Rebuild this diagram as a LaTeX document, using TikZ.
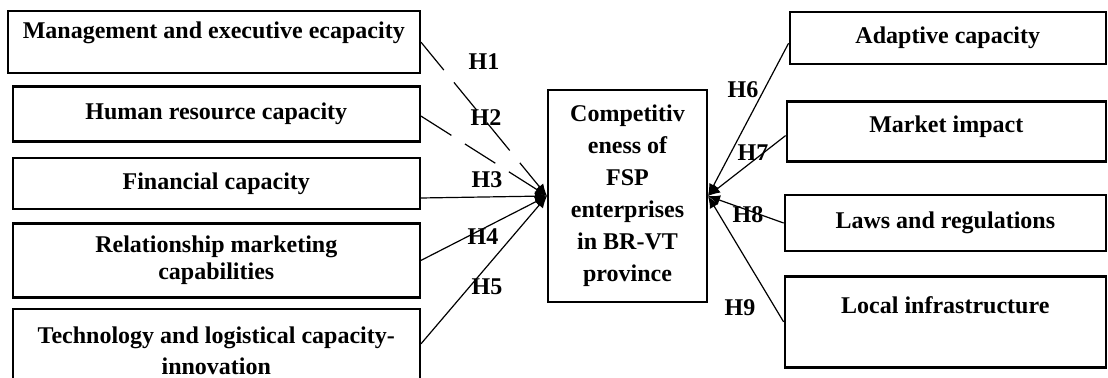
\documentclass[tikz,border=0pt]{standalone}
\usepackage{fontspec}
\setmainfont{Liberation Serif}
\usetikzlibrary{arrows.meta, positioning}

\begin{document}
\begin{tikzpicture}[
    x=0.5pt, y=-0.5pt,
    factor/.style={rectangle, draw, line width=1.2pt, align=center, inner sep=0pt,
        font=\bfseries\fontsize{12}{13.5}\selectfont},
    hyp/.style={inner sep=0pt, font=\bfseries\fontsize{12}{13.5}\selectfont},
    link/.style={-{Latex[length=6pt,width=5pt]}, line width=0.6pt},
    dashlink/.style={link, dash pattern=on 18pt off 8pt}
]
\useasboundingbox (0,0) rectangle (1108,378);
\clip (0,0) rectangle (1108,378);

\node[factor, minimum width=206pt, minimum height=31pt, text depth=12pt, anchor=north east] (mgmt) at (421,10) {Management and executive ecapacity};
\node[factor, minimum width=203.5pt, minimum height=27.5pt, below=5.5pt of mgmt.south east, anchor=north east] (human) {Human resource capacity};
\node[factor, minimum width=203.5pt, minimum height=25.5pt, below=7pt of human.south east, anchor=north east] (fin) {Financial capacity};
\node[factor, minimum width=203.5pt, minimum height=37pt, below=6pt of fin.south east, anchor=north east] (rel) {Relationship marketing\\capabilities};
\node[factor, minimum width=203.5pt, minimum height=42pt, below=4.5pt of rel.south east, anchor=north east,
    font=\bfseries\fontsize{12}{15.5}\selectfont] (tech) {Technology and logistical capacity-\\innovation};

\node[factor, line width=1pt, minimum width=79.5pt, minimum height=106pt,
    font=\bfseries\fontsize{12}{16}\selectfont] (comp) at (627.5,196) {Competitiv\\eness of\\FSP\\enterprises\\in BR-VT\\province};

\node[factor, minimum width=158pt, minimum height=26pt, anchor=north east] (adapt) at (1107,11) {Adaptive capacity};
\node[factor, minimum width=159.5pt, minimum height=30pt, text depth=7.5pt, below=17.5pt of adapt.south east, anchor=north east] (market) {Market impact};
\node[factor, minimum width=160.5pt, minimum height=28pt, below=15.5pt of market.south east, anchor=north east] (laws) {Laws and regulations};
\node[factor, minimum width=160.5pt, minimum height=45.5pt, text depth=16.5pt, below=11.5pt of laws.south east, anchor=north east] (infra) {Local infrastructure};

\node[hyp] (h1) at (484,62) {H1};
\node[hyp] (h2) at (486,118) {H2};
\node[hyp] (h3) at (487,180) {H3};
\node[hyp] (h4) at (483,237) {H4};
\node[hyp] (h5) at (487,287) {H5};
\node[hyp] (h6) at (743,90) {H6};
\node[hyp] (h7) at (753,153) {H7};
\node[hyp] (h8) at (748,215) {H8};
\node[hyp] (h9) at (740,308) {H9};

\draw[dashlink] (mgmt.east) -- (comp.west);
\draw[dashlink] ([yshift=-1pt]human.east) -- (comp.west);
\draw[link] ([yshift=-7.25pt]fin.east) -- (comp.west);
\draw[link] (rel.east) -- (comp.west);
\draw[link] ([yshift=3.5pt]tech.east) -- (comp.west);
\draw[link] ([yshift=-2.5pt]adapt.west) -- (comp.east);
\draw[link] ([yshift=-2pt]market.west) -- (comp.east);
\draw[link] (laws.west) -- (comp.east);
\draw[link] (infra.west) -- (comp.east);

\end{tikzpicture}
\end{document}
